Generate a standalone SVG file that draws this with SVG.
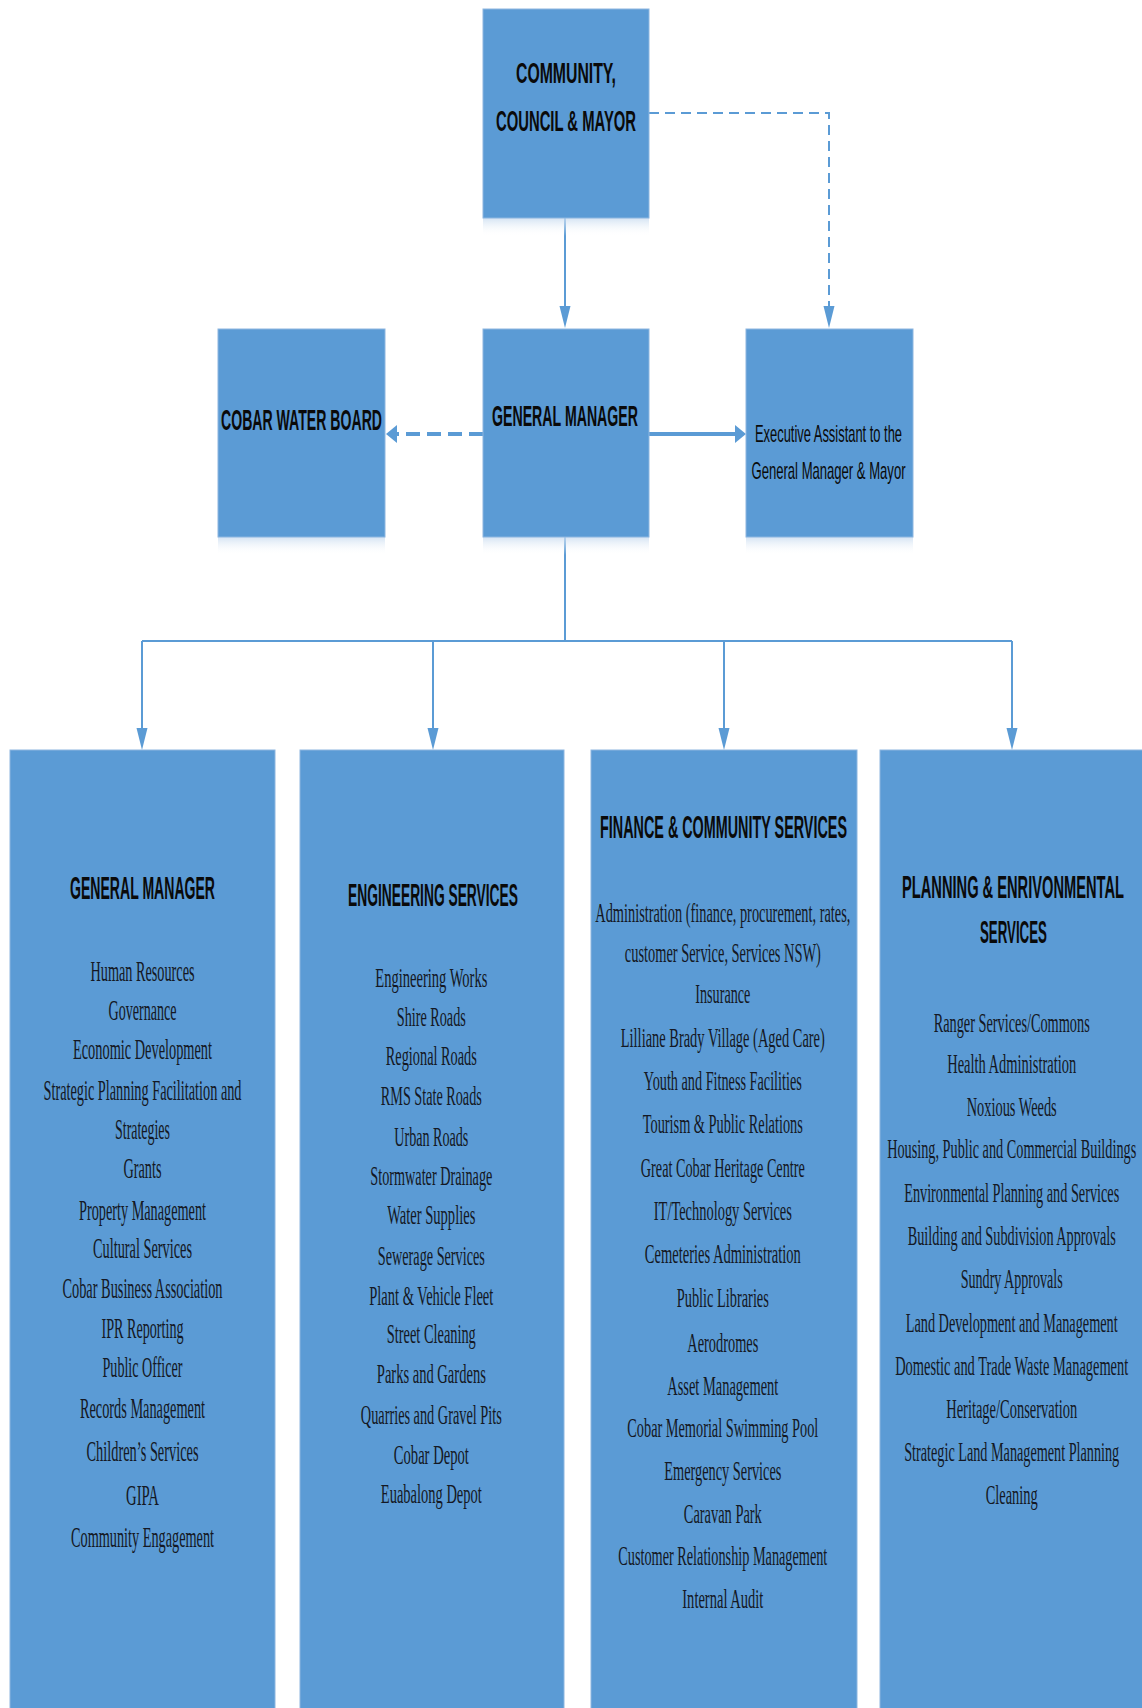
<svg xmlns="http://www.w3.org/2000/svg" width="1142" height="1708" viewBox="0 0 1142 1708">
<style>
  .box { fill: #5B9BD5; stroke: #8DB6E0; stroke-width: 1; }
  .refl { fill: url(#reflect); }
  text { text-anchor: middle; }
  .hd { font-family: "Liberation Sans", Arial, sans-serif; font-weight: bold; fill: #0a0a0a; }
  .ex { font-family: "Liberation Sans", Arial, sans-serif; font-size: 24px; fill: #0a0a0a; }
  .it { font-family: "Liberation Serif", "Times New Roman", serif; fill: #141824; }
  .c1 { font-size: 30px; }
  .c2 { font-size: 28px; }
  .conn { fill: none; stroke: #5B9BD5; }
  .thin { stroke-width: 2; }
  .thick { stroke-width: 4; }
  .dash { stroke-dasharray: 10 6; }
  .dashthick { stroke-dasharray: 14 7; }
</style>
<defs>
  <linearGradient id="reflect" x1="0" y1="0" x2="0" y2="1">
    <stop offset="0" stop-color="#c9dcf0" stop-opacity="0.8"/>
    <stop offset="1" stop-color="#ffffff" stop-opacity="0"/>
  </linearGradient>
  <marker id="arrThin" markerUnits="userSpaceOnUse" markerWidth="23" markerHeight="12" refX="0" refY="5.5" orient="auto" viewBox="0 0 23 12">
    <path d="M0,0 L22,5.5 L0,11 z" fill="#5B9BD5"/>
  </marker>
  <marker id="arrThick" markerUnits="userSpaceOnUse" markerWidth="12" markerHeight="19" refX="0" refY="9" orient="auto" viewBox="0 0 12 19">
    <path d="M0,0 L11,9 L0,18 z" fill="#5B9BD5"/>
  </marker>
</defs>
<rect width="1142" height="1708" fill="#ffffff"/>

<g id="connectors">
  <line class="conn thin" x1="565" y1="218" x2="565" y2="306" marker-end="url(#arrThin)"/>
  <path class="conn thin dash" d="M649,113 H829 V306" marker-end="url(#arrThin)"/>
  <line class="conn thick" x1="649" y1="434" x2="735" y2="434" marker-end="url(#arrThick)"/>
  <line class="conn thick dashthick" x1="483" y1="434" x2="397" y2="434" marker-end="url(#arrThick)"/>
  <path class="conn thin" d="M565,537 V641"/>
  <path class="conn thin" d="M142,641 H1012"/>
  <line class="conn thin" x1="142" y1="641" x2="142" y2="728" marker-end="url(#arrThin)"/>
  <line class="conn thin" x1="433" y1="641" x2="433" y2="728" marker-end="url(#arrThin)"/>
  <line class="conn thin" x1="724" y1="641" x2="724" y2="728" marker-end="url(#arrThin)"/>
  <line class="conn thin" x1="1012" y1="641" x2="1012" y2="728" marker-end="url(#arrThin)"/>
</g>

<g id="node-community">
  <rect class="refl" x="483" y="218" width="166" height="18"/>
  <rect class="box" x="483" y="9" width="166" height="209"/>
  <g class="hd" font-size="29" transform="translate(566,0) scale(0.45,1)">
    <text x="0" y="83" textLength="222.2" lengthAdjust="spacingAndGlyphs">COMMUNITY,</text>
    <text x="0" y="131" textLength="311.1" lengthAdjust="spacingAndGlyphs">COUNCIL &amp; MAYOR</text>
  </g>
</g>

<g id="node-cobar-water-board">
  <rect class="refl" x="218" y="537" width="167" height="18"/>
  <rect class="box" x="218" y="329" width="167" height="208"/>
  <g class="hd" font-size="30" transform="translate(301.5,0) scale(0.45,1)">
    <text x="0" y="430" textLength="357.7" lengthAdjust="spacingAndGlyphs">COBAR WATER BOARD</text>
  </g>
</g>

<g id="node-general-manager">
  <rect class="refl" x="483" y="537" width="166" height="18"/>
  <rect class="box" x="483" y="329" width="166" height="208"/>
  <g class="hd" font-size="30" transform="translate(565,0) scale(0.45,1)">
    <text x="0" y="426" textLength="324.4" lengthAdjust="spacingAndGlyphs">GENERAL MANAGER</text>
  </g>
</g>

<g id="node-executive-assistant">
  <rect class="refl" x="746" y="537" width="167" height="18"/>
  <rect class="box" x="746" y="329" width="167" height="208"/>
  <g class="ex" transform="translate(828.5,0) scale(0.53,1)">
    <text x="0" y="442" textLength="277.4" lengthAdjust="spacingAndGlyphs">Executive Assistant to the</text>
    <text x="0" y="479" textLength="290.6" lengthAdjust="spacingAndGlyphs">General Manager &amp; Mayor</text>
  </g>
</g>

<g id="node-dept-general-manager">
  <rect class="box" x="10" y="750" width="265" height="962"/>
  <g class="hd" font-size="32" transform="translate(142.5,0) scale(0.45,1)">
    <text x="0" y="899" textLength="322.2" lengthAdjust="spacingAndGlyphs">GENERAL MANAGER</text>
  </g>
  <g class="it c1" transform="translate(142.5,0) scale(0.47,1)">
    <text x="0" y="981" textLength="221.3" lengthAdjust="spacingAndGlyphs">Human Resources</text>
    <text x="0" y="1020" textLength="144.7" lengthAdjust="spacingAndGlyphs">Governance</text>
    <text x="0" y="1059" textLength="295.8" lengthAdjust="spacingAndGlyphs">Economic Development</text>
    <text x="0" y="1100" textLength="421.3" lengthAdjust="spacingAndGlyphs">Strategic Planning Facilitation and</text>
    <text x="0" y="1139" textLength="117" lengthAdjust="spacingAndGlyphs">Strategies</text>
    <text x="0" y="1178" textLength="80.9" lengthAdjust="spacingAndGlyphs">Grants</text>
    <text x="0" y="1220" textLength="270.2" lengthAdjust="spacingAndGlyphs">Property Management</text>
    <text x="0" y="1258" textLength="210.7" lengthAdjust="spacingAndGlyphs">Cultural Services</text>
    <text x="0" y="1298" textLength="340.5" lengthAdjust="spacingAndGlyphs">Cobar Business Association</text>
    <text x="0" y="1338" textLength="174.5" lengthAdjust="spacingAndGlyphs">IPR Reporting</text>
    <text x="0" y="1377" textLength="170.2" lengthAdjust="spacingAndGlyphs">Public Officer</text>
    <text x="0" y="1418" textLength="266" lengthAdjust="spacingAndGlyphs">Records Management</text>
    <text x="0" y="1461" textLength="238.3" lengthAdjust="spacingAndGlyphs">Children’s Services</text>
    <text x="0" y="1505" textLength="70.2" lengthAdjust="spacingAndGlyphs">GIPA</text>
    <text x="0" y="1547" textLength="304.3" lengthAdjust="spacingAndGlyphs">Community Engagement</text>
  </g>
</g>

<g id="node-engineering-services">
  <rect class="box" x="300" y="750" width="264" height="962"/>
  <g class="hd" font-size="32" transform="translate(433,0) scale(0.45,1)">
    <text x="0" y="906" textLength="377.7" lengthAdjust="spacingAndGlyphs">ENGINEERING SERVICES</text>
  </g>
  <g class="it c2" transform="translate(431.3,0) scale(0.47,1)">
    <text x="0" y="987" textLength="238.3" lengthAdjust="spacingAndGlyphs">Engineering Works</text>
    <text x="0" y="1026" textLength="146.8" lengthAdjust="spacingAndGlyphs">Shire Roads</text>
    <text x="0" y="1065" textLength="193.6" lengthAdjust="spacingAndGlyphs">Regional Roads</text>
    <text x="0" y="1105" textLength="214.9" lengthAdjust="spacingAndGlyphs">RMS State Roads</text>
    <text x="0" y="1146" textLength="157.5" lengthAdjust="spacingAndGlyphs">Urban Roads</text>
    <text x="0" y="1185" textLength="259.6" lengthAdjust="spacingAndGlyphs">Stormwater Drainage</text>
    <text x="0" y="1224" textLength="187.3" lengthAdjust="spacingAndGlyphs">Water Supplies</text>
    <text x="0" y="1265" textLength="227.7" lengthAdjust="spacingAndGlyphs">Sewerage Services</text>
    <text x="0" y="1305" textLength="263.9" lengthAdjust="spacingAndGlyphs">Plant &amp; Vehicle Fleet</text>
    <text x="0" y="1343" textLength="189.4" lengthAdjust="spacingAndGlyphs">Street Cleaning</text>
    <text x="0" y="1383" textLength="231.9" lengthAdjust="spacingAndGlyphs">Parks and Gardens</text>
    <text x="0" y="1424" textLength="300" lengthAdjust="spacingAndGlyphs">Quarries and Gravel Pits</text>
    <text x="0" y="1464" textLength="159.6" lengthAdjust="spacingAndGlyphs">Cobar Depot</text>
    <text x="0" y="1503" textLength="214.9" lengthAdjust="spacingAndGlyphs">Euabalong Depot</text>
  </g>
</g>

<g id="node-finance-community-services">
  <rect class="box" x="591" y="750" width="266" height="962"/>
  <g class="hd" font-size="32" transform="translate(723.5,0) scale(0.45,1)">
    <text x="0" y="838" textLength="548.8" lengthAdjust="spacingAndGlyphs">FINANCE &amp; COMMUNITY SERVICES</text>
  </g>
  <g class="it c2" transform="translate(722.8,0) scale(0.47,1)">
    <text x="0" y="922" textLength="542.6" lengthAdjust="spacingAndGlyphs">Administration (finance, procurement, rates,</text>
    <text x="0" y="962" textLength="417.1" lengthAdjust="spacingAndGlyphs">customer Service, Services NSW)</text>
    <text x="0" y="1003" textLength="117" lengthAdjust="spacingAndGlyphs">Insurance</text>
    <text x="0" y="1047" textLength="434.1" lengthAdjust="spacingAndGlyphs">Lilliane Brady Village (Aged Care)</text>
    <text x="0" y="1090" textLength="336.2" lengthAdjust="spacingAndGlyphs">Youth and Fitness Facilities</text>
    <text x="0" y="1133" textLength="340.5" lengthAdjust="spacingAndGlyphs">Tourism &amp; Public Relations</text>
    <text x="0" y="1177" textLength="349" lengthAdjust="spacingAndGlyphs">Great Cobar Heritage Centre</text>
    <text x="0" y="1220" textLength="293.7" lengthAdjust="spacingAndGlyphs">IT/Technology Services</text>
    <text x="0" y="1263" textLength="332" lengthAdjust="spacingAndGlyphs">Cemeteries Administration</text>
    <text x="0" y="1307" textLength="195.8" lengthAdjust="spacingAndGlyphs">Public Libraries</text>
    <text x="0" y="1352" textLength="151.1" lengthAdjust="spacingAndGlyphs">Aerodromes</text>
    <text x="0" y="1395" textLength="236.2" lengthAdjust="spacingAndGlyphs">Asset Management</text>
    <text x="0" y="1437" textLength="406.4" lengthAdjust="spacingAndGlyphs">Cobar Memorial Swimming Pool</text>
    <text x="0" y="1480" textLength="249" lengthAdjust="spacingAndGlyphs">Emergency Services</text>
    <text x="0" y="1523" textLength="166" lengthAdjust="spacingAndGlyphs">Caravan Park</text>
    <text x="0" y="1565" textLength="444.8" lengthAdjust="spacingAndGlyphs">Customer Relationship Management</text>
    <text x="0" y="1608" textLength="172.4" lengthAdjust="spacingAndGlyphs">Internal Audit</text>
  </g>
</g>

<g id="node-planning-environmental-services">
  <rect class="box" x="880" y="750" width="266" height="962"/>
  <g class="hd" font-size="32" transform="translate(1013,0) scale(0.45,1)">
    <text x="0" y="898" textLength="493.3" lengthAdjust="spacingAndGlyphs">PLANNING &amp; ENRIVONMENTAL</text>
    <text x="1" y="943" textLength="148.9" lengthAdjust="spacingAndGlyphs">SERVICES</text>
  </g>
  <g class="it c2" transform="translate(1011.7,0) scale(0.47,1)">
    <text x="0" y="1032" textLength="332" lengthAdjust="spacingAndGlyphs">Ranger Services/Commons</text>
    <text x="0" y="1073" textLength="274.5" lengthAdjust="spacingAndGlyphs">Health Administration</text>
    <text x="0" y="1116" textLength="191.5" lengthAdjust="spacingAndGlyphs">Noxious Weeds</text>
    <text x="0" y="1158" textLength="529.9" lengthAdjust="spacingAndGlyphs">Housing, Public and Commercial Buildings</text>
    <text x="0" y="1202" textLength="457.5" lengthAdjust="spacingAndGlyphs">Environmental Planning and Services</text>
    <text x="0" y="1245" textLength="442.6" lengthAdjust="spacingAndGlyphs">Building and Subdivision Approvals</text>
    <text x="0" y="1288" textLength="217.1" lengthAdjust="spacingAndGlyphs">Sundry Approvals</text>
    <text x="0" y="1332" textLength="451.1" lengthAdjust="spacingAndGlyphs">Land Development and Management</text>
    <text x="0" y="1375" textLength="495.8" lengthAdjust="spacingAndGlyphs">Domestic and Trade Waste Management</text>
    <text x="0" y="1418" textLength="278.8" lengthAdjust="spacingAndGlyphs">Heritage/Conservation</text>
    <text x="0" y="1461" textLength="457.5" lengthAdjust="spacingAndGlyphs">Strategic Land Management Planning</text>
    <text x="0" y="1504" textLength="110.7" lengthAdjust="spacingAndGlyphs">Cleaning</text>
  </g>
</g>
</svg>
